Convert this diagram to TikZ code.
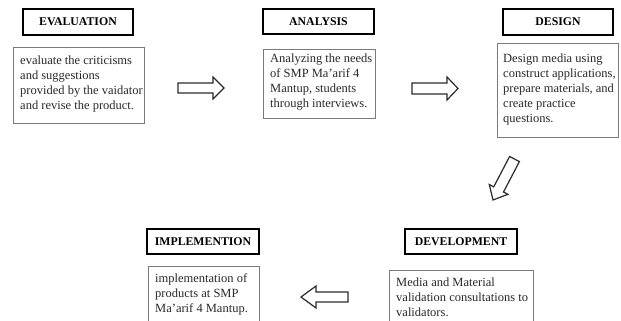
\documentclass[tikz,border=0pt]{standalone}
\usepackage{fontspec}
\setmainfont{Liberation Serif}
\definecolor{boxgray}{HTML}{7A7A7A}
\definecolor{inkgray}{HTML}{2A2A2A}
\newcommand{\txtlines}[1]{\vtop{\baselineskip=15pt\fontsize{12.5}{15}\selectfont #1}}
\tikzset{
  titlebox/.style={draw=black, line width=1.4pt, minimum width=#1, minimum height=25pt, inner sep=0pt, font=\fontsize{11.8}{13}\selectfont\bfseries, text=black},
  contentbox/.style={draw=boxgray, line width=1pt, anchor=north west, inner sep=0pt},
  bodytext/.style={anchor=base west, inner sep=0pt, text=inkgray},
  blockarrow/.style={draw=inkgray, line width=1.2pt, line join=miter, fill=white}
}
\begin{document}
\begin{tikzpicture}[x=1pt,y=-1pt]
\useasboundingbox (0,0) rectangle (621,321);
\clip (0,0) rectangle (621,321);
\fill[white] (0,0) rectangle (621,321);

% title boxes
\node[titlebox=110pt, minimum height=26pt] (evalT) at (78,22) {EVALUATION};
\node[titlebox=111pt] (anaT) at (318.5,21.5) {ANALYSIS};
\node[titlebox=110pt, minimum height=26pt] (desT) at (558,22) {DESIGN};
\node[titlebox=112pt] (devT) at (461,241.5) {DEVELOPMENT};
\node[titlebox=112pt] (impT) at (203,241.5) {IMPLEMENTION};

% content boxes
\node[contentbox, minimum width=131pt, minimum height=76pt] (evalB) at (13,47) {};
\node[contentbox, minimum width=112pt, minimum height=69pt] (anaB) at (263,49) {};
\node[contentbox, minimum width=121pt, minimum height=94pt] (desB) at (497,43) {};
\node[contentbox, minimum width=144pt, minimum height=70pt] (devB) at (389,270) {};
\node[contentbox, minimum width=111pt, minimum height=70pt] (impB) at (148,266) {};

% texts
\node[bodytext] (evalX) at (20,65) {\txtlines{\hbox{evaluate the criticisms}\hbox{and suggestions}\hbox{provided by the vaidator}\hbox{and revise the product.}}};
\node[bodytext] (anaX) at (270,63) {\txtlines{\hbox{Analyzing the needs}\hbox{of SMP Ma'arif 4}\hbox{Mantup, students}\hbox{through interviews.}}};
\node[bodytext] (desX) at (503,63) {\txtlines{\hbox{Design media using}\hbox{construct applications,}\hbox{prepare materials, and}\hbox{create practice}\hbox{questions.}}};
\node[bodytext] (devX) at (396,286) {\txtlines{\hbox{Media and Material}\hbox{validation consultations to}\hbox{validators.}}};
\node[bodytext] (impX) at (155,282) {\txtlines{\hbox{implementation of}\hbox{products at SMP}\hbox{Ma'arif 4 Mantup.}}};

% block arrows
\draw[blockarrow] (178,83) -- (213,83) -- (213,77) -- (224,88) -- (213,99) -- (213,93) -- (178,93) -- cycle;
\draw[blockarrow] (412,83) -- (447,83) -- (447,77) -- (458,88.5) -- (447,100) -- (447,94) -- (412,94) -- cycle;
\draw[blockarrow] (519.4,161.6) -- (503.5,192.0) -- (507.9,194.3) -- (493,200) -- (489.3,184.5) -- (493.7,186.9) -- (509.6,156.5) -- cycle;
\draw[blockarrow] (348,292) -- (316,292) -- (316,286) -- (301,297) -- (316,308) -- (316,302) -- (348,302) -- cycle;
\end{tikzpicture}
\end{document}
